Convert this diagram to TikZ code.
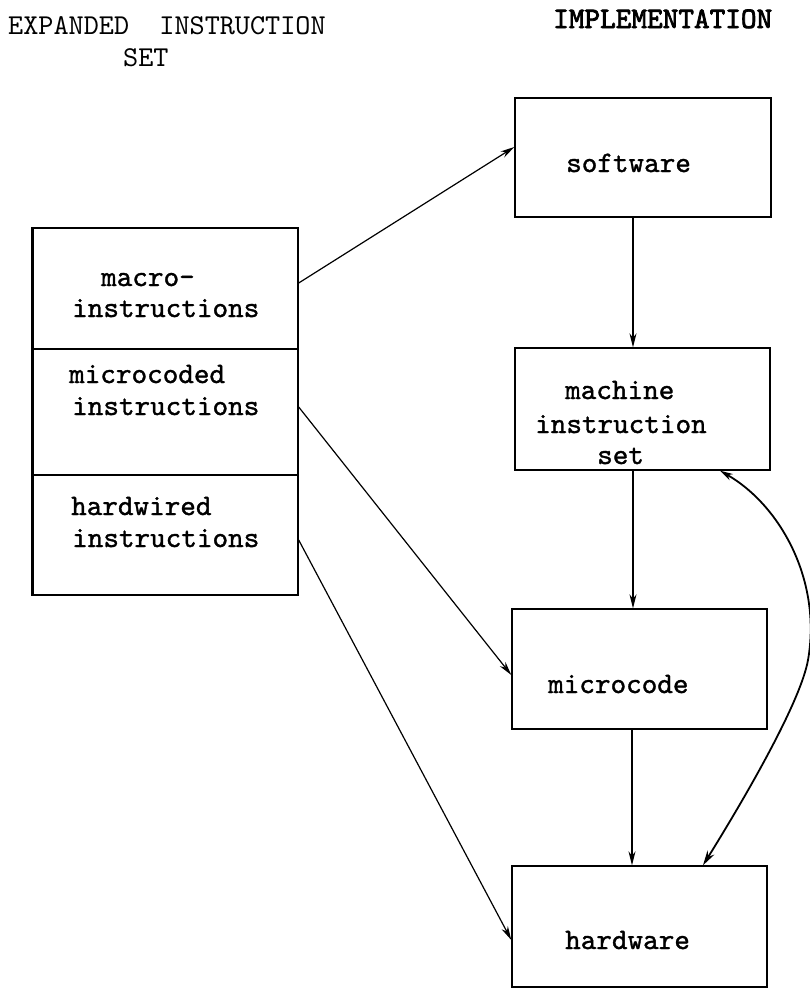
\documentclass[tikz,border=0pt]{standalone}
\usepackage{fontspec}
\newfontfamily\typ[Extension=.otf,FakeBold=1.2]{lmmono10-regular}
\newfontfamily\typhd[Extension=.otf]{lmmono10-regular}
\newfontfamily\typbold[Extension=.otf,FakeBold=2.6]{lmmono10-regular}
\usetikzlibrary{arrows.meta}
\begin{document}
\begin{tikzpicture}[x=1pt,y=-1pt,
  boxnode/.style={draw,line width=1.4pt,rectangle,inner sep=0pt},
  lbl/.style={font=\typ\fontsize{29.7}{31}\selectfont,inner sep=0pt,anchor=base west},
  hd/.style={font=\typhd\fontsize{28.8}{30}\selectfont,inner sep=0pt,anchor=base west},
  hdb/.style={font=\typbold\fontsize{29.8}{30}\selectfont,inner sep=0pt,anchor=base west},
  arr/.style={-{Stealth[length=14pt,width=7pt]},line width=1.2pt},
  curvearr/.style={{Stealth[length=13pt,width=7pt]}-{Stealth[length=15pt,width=8pt]},line width=1.8pt}]
\useasboundingbox (0,0) rectangle (810,988);

% headings
\node[hd] (h1) at (8,34) {EXPANDED\ \ INSTRUCTION};
\node[hd] (h2) at (123,66) {SET};
\node[hdb] (h3) at (553,28) {IMPLEMENTATION};

% right column boxes
\node[boxnode,minimum width=256pt,minimum height=119pt] (soft) at (643,157.5) {};
\node[boxnode,minimum width=255pt,minimum height=122pt] (mach) at (642.5,409) {};
\node[boxnode,minimum width=255pt,minimum height=120pt] (mcode) at (639.5,669) {};
\node[boxnode,minimum width=255pt,minimum height=121pt] (hw) at (639.5,926.5) {};

% left stacked box
\node[boxnode,minimum width=265pt,minimum height=121pt] (macro) at (165.5,288.5) {};
\node[boxnode,minimum width=265pt,minimum height=126pt] (micro) at (165.5,412) {};
\node[boxnode,minimum width=265pt,minimum height=120pt] (hard) at (165.5,535) {};
\draw[line width=2.8pt] (macro.north west) -- (hard.south west);

% labels
\node[lbl] (tsoft) at (566,172) {software};
\node[lbl] (tmach1) at (565,399) {machine};
\node[lbl] (tmach2) at (535,433) {instruction};
\node[lbl] (tmach3) at (597,464) {set};
\node[lbl] (tmcode) at (548,693) {microcode};
\node[lbl] (thw) at (565,949) {hardware};
\node[lbl] (tma1) at (101,286) {macro-};
\node[lbl] (tma2) at (72,317) {instructions};
\node[lbl] (tmi1) at (69,383) {microcoded};
\node[lbl] (tmi2) at (72,415) {instructions};
\node[lbl] (tha1) at (71,515) {hardwired};
\node[lbl] (tha2) at (72,547) {instructions};

% connectors
\coordinate (colA) at (633,0);
\coordinate (colB) at (632,0);
\draw[arr] ([yshift=5.5pt]macro.east) -- ([yshift=10.5pt]soft.west);
\draw[arr] ([yshift=5pt]micro.east) -- ([yshift=-6pt]mcode.west);
\draw[arr] ([yshift=-5pt]hard.east) -- ([yshift=-13.5pt]hw.west);
\draw[arr] (soft.south -| colA) -- (mach.north -| colA);
\draw[arr] (mach.south -| colA) -- (mcode.north -| colA);
\draw[arr] (mcode.south -| colB) -- (hw.north -| colB);
\coordinate (cs) at ([xshift=77.5pt]mach.south);
\coordinate (ce) at ([xshift=63.5pt]hw.north);
\draw[curvearr] (cs) .. controls (780,505) and (822,580) .. (808,660)
  .. controls (800,705) and (738,809) .. (ce);
\end{tikzpicture}
\end{document}
